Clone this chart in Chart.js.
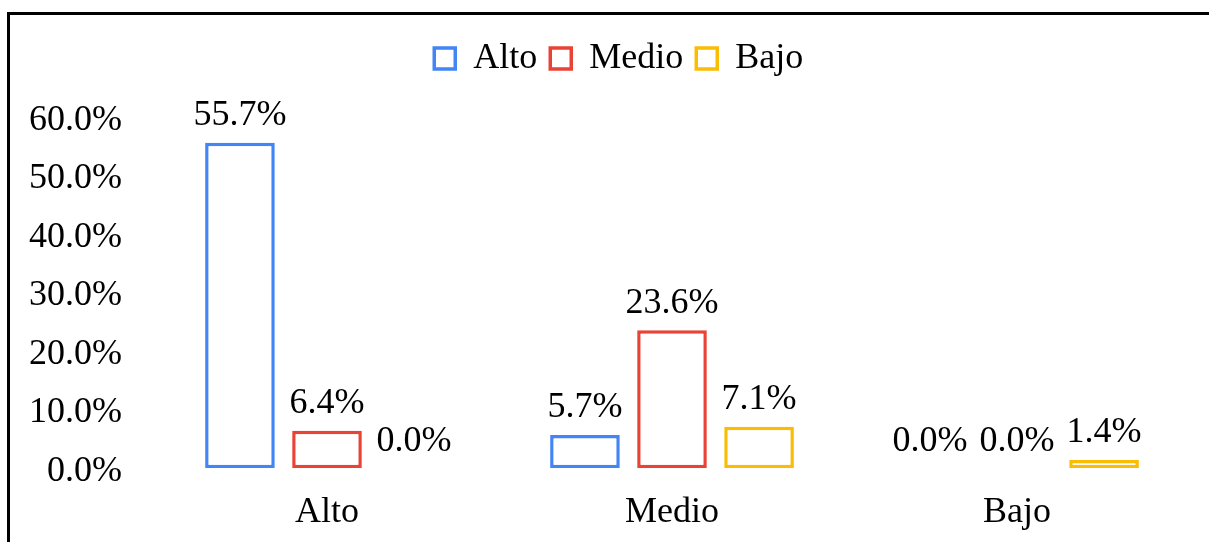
<!DOCTYPE html>
<html>
<head>
<meta charset="utf-8">
<script src="https://cdn.jsdelivr.net/npm/chart.js@4.4.0/dist/chart.umd.min.js"></script>
<style>
	html, body { margin: 0; padding: 0; background: #fff; overflow: hidden; }
	#frame {
		position: absolute;
		left: 7px;
		top: 12px;
		width: 1202px;
		height: 530px;
		border-left: 3px solid #000;
		border-top: 3px solid #000;
	}
	#box { position: relative; width: 1199px; height: 527px; }
</style>
</head>
<body>
<div id="frame"><div id="box"><canvas id="BarChart"></canvas></div></div>
<script>
	var categories = ['Alto', 'Medio', 'Bajo'];
	var seriesNames = ['Alto', 'Medio', 'Bajo'];
	var altoValues = [55.7, 5.7, 0.0];
	var medioValues = [6.4, 23.6, 0.0];
	var bajoValues = [0.0, 7.1, 1.4];
	var seriesColors = ['#4285F4', '#EA4335', '#FBBC04'];
	var yMax = 60;
	var yStep = 10;

	var fontFamily = '"Liberation Serif", "Times New Roman", serif';

	// @desc draws the value above each bar
	var barLabels = {
		id: 'barLabels',
		afterDatasetsDraw: function(chart) {
			var ctx = chart.ctx;
			ctx.save();
			ctx.font = '36px ' + fontFamily;
			ctx.fillStyle = '#000';
			ctx.textAlign = 'center';
			ctx.textBaseline = 'middle';
			chart.data.datasets.forEach(function(ds, i) {
				chart.getDatasetMeta(i).data.forEach(function(bar, j) {
					ctx.fillText(ds.data[j].toFixed(1) + '%', bar.x, bar.y - 27);
				});
			});
			ctx.restore();
		}
	};

	// @desc extra space under the legend, and nudge it to the right
	var legendGap = {
		id: 'legendGap',
		beforeInit: function(chart) {
			var fit = chart.legend.fit;
			chart.legend.fit = function() {
				fit.bind(chart.legend)();
				this.height += 31;
			};
		},
		afterLayout: function(chart) {
			chart.legend.left += 14;
			chart.legend.right += 14;
		}
	};

	var valueSets = [altoValues, medioValues, bajoValues];

	new Chart(document.getElementById('BarChart'), {
		type: 'bar',
		data: {
			labels: categories,
			datasets: seriesNames.map(function(name, i) {
				return {
					label: name,
					data: valueSets[i],
					backgroundColor: '#fff',
					borderColor: seriesColors[i],
					borderWidth: 3.5,
					borderSkipped: false,
					categoryPercentage: 0.757,
					barPercentage: 0.8
				};
			})
		},
		options: {
			responsive: true,
			maintainAspectRatio: false,
			animation: false,
			layout: {
				padding: { left: 10, right: 19.5, top: 12.5, bottom: 9.3 }
			},
			plugins: {
				tooltip: { enabled: false },
				legend: {
					position: 'top',
					labels: {
						font: { family: fontFamily, size: 36 },
						color: '#000',
						boxWidth: 21,
						boxHeight: 21,
						padding: 13
					}
				}
			},
			scales: {
				x: {
					grid: { display: false, drawTicks: false },
					border: { display: false },
					afterFit: function(scale) {
						scale.height = 64.5;
					},
					ticks: {
						font: { family: fontFamily, size: 36 },
						color: '#000',
						padding: 23
					}
				},
				y: {
					min: 0,
					max: yMax,
					grid: { display: false, drawTicks: false },
					border: { display: false },
					afterFit: function(scale) {
						scale.width = 134.5;
					},
					ticks: {
						stepSize: yStep,
						font: { family: fontFamily, size: 36 },
						color: '#000',
						padding: 32.5,
						labelOffset: 3,
						callback: function(value) {
							return Number(value).toFixed(1) + '%';
						}
					}
				}
			}
		},
		plugins: [barLabels, legendGap]
	});
</script>
</body>
</html>
